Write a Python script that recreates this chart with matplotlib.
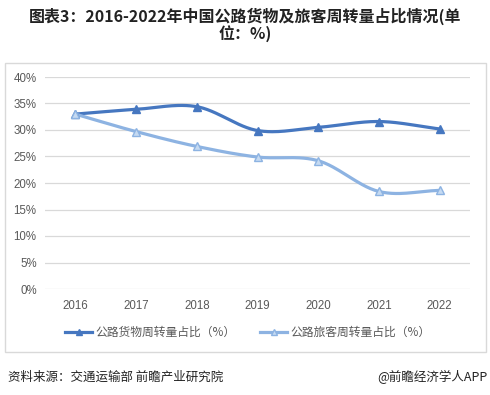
import numpy as np
import matplotlib.pyplot as plt
from matplotlib.patches import Rectangle

plt.rcParams['font.family'] = ['Liberation Sans', 'Noto Sans CJK SC', 'DejaVu Sans']

years = ['2016', '2017', '2018', '2019', '2020', '2021', '2022']
freight = [33.0, 33.9, 34.4, 29.9, 30.5, 31.6, 30.2]
passenger = [33.0, 29.7, 26.9, 24.9, 24.2, 18.4, 18.6]
freight_label = '公路货物周转量占比（%）'
passenger_label = '公路旅客周转量占比（%）'
yticks = [0, 5, 10, 15, 20, 25, 30, 35, 40]

title = '图表3：2016-2022年中国公路货物及旅客周转量占比情况(单\n位：%)'
source = '资料来源：交通运输部 前瞻产业研究院'
brand = '@前瞻经济学人APP'


def smooth(x, y, n=30):
    # excel-like smoothed line (catmull-rom through the points)
    x = np.asarray(x, float)
    y = np.asarray(y, float)
    px = np.concatenate([[2 * x[0] - x[1]], x, [2 * x[-1] - x[-2]]])
    py = np.concatenate([[2 * y[0] - y[1]], y, [2 * y[-1] - y[-2]]])
    xs, ys = [], []
    t = np.linspace(0, 1, n)
    for i in range(1, len(px) - 2):
        for p, out in ((px, xs), (py, ys)):
            p0, p1, p2, p3 = p[i - 1], p[i], p[i + 1], p[i + 2]
            out.extend(0.5 * (2 * p1 + (-p0 + p2) * t
                              + (2 * p0 - 5 * p1 + 4 * p2 - p3) * t ** 2
                              + (-p0 + 3 * p1 - 3 * p2 + p3) * t ** 3))
    return np.array(xs), np.array(ys)


fig = plt.figure(figsize=(4.9, 3.95), dpi=100)
fig.patches.append(Rectangle((5 / 490, 1 - 352 / 395), 481 / 490, 289 / 395,
                             transform=fig.transFigure, fill=False,
                             edgecolor='#d9d9d9', lw=1))

ax = fig.add_axes([45 / 490, 106 / 395, 425 / 490, 212 / 395])
x = np.arange(len(years))

dark = '#4677c0'
light = '#8db3e2'

sx, sy = smooth(x, freight)
ax.plot(sx, sy, color=dark, lw=2.3, solid_capstyle='round', zorder=3)
ax.plot(x, freight, ls='none', marker='^', ms=6, color=dark, zorder=4)

sx, sy = smooth(x, passenger)
ax.plot(sx, sy, color=light, lw=2.3, solid_capstyle='round', zorder=3)
ax.plot(x, passenger, ls='none', marker='^', ms=6, mfc='#c5daf2',
        mec=light, mew=1, zorder=4)

ax.set_xlim(-0.5, len(years) - 0.5)
ax.set_ylim(0, 40)
ax.set_yticks(yticks)
ax.set_yticklabels([f'{v}%' for v in yticks])
ax.set_xticks(x)
ax.set_xticklabels(years)
ax.tick_params(length=0, labelsize=8.3, labelcolor='#595959')
ax.tick_params(axis='y', pad=6)
ax.tick_params(axis='x', pad=8)
ax.grid(axis='y', color='#d9d9d9', lw=0.9)
ax.set_axisbelow(True)
for s in ax.spines.values():
    s.set_visible(False)

# legend
cjk = ['Noto Sans CJK SC', 'DejaVu Sans']
for x0, col, mfc, lab in ((65, dark, dark, freight_label),
                          (260, light, '#c5daf2', passenger_label)):
    yy = 1 - 332 / 395
    fig.add_artist(plt.Line2D([x0 / 490, (x0 + 27) / 490], [yy, yy],
                              transform=fig.transFigure, color=col, lw=2.3))
    fig.add_artist(plt.Line2D([(x0 + 13.5) / 490], [yy], transform=fig.transFigure,
                              marker='^', ms=5, color=col, mfc=mfc, ls='none'))
    fig.text((x0 + 30) / 490, yy, lab, family=cjk, fontsize=8.5,
             color='#595959', va='center', ha='left')

fig.text(0.5, 1 - 25 / 395, title, family=cjk, fontsize=11.5, fontweight='bold',
         color='#222222', ha='center', va='center', multialignment='center',
         linespacing=1.0)
fig.text(8 / 490, 1 - 377 / 395, source, family=cjk, fontsize=9,
         color='#222222', ha='left', va='center')
fig.text(487 / 490, 1 - 377 / 395, brand, family=cjk, fontsize=9,
         color='#222222', ha='right', va='center')

fig.savefig('out.png', dpi=100)
